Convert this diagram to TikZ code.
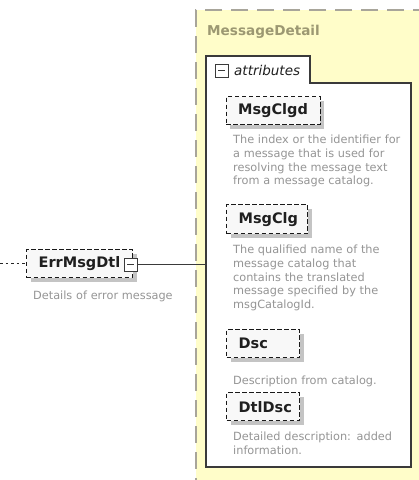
\documentclass[tikz,border=0pt]{standalone}
\usepackage{fontspec}
\setmainfont{DejaVu Sans}
\usetikzlibrary{shadows}
\definecolor{bgyellow}{HTML}{FFFDC9}
\definecolor{ydash}{HTML}{A8A59A}
\definecolor{desccol}{HTML}{959595}
\definecolor{shade}{HTML}{C4C4C4}
\definecolor{boxfill}{HTML}{F8F8F8}
\definecolor{framecol}{HTML}{3A3A3A}
\definecolor{titlecol}{HTML}{9C9872}
\begin{document}
\begin{tikzpicture}[x=1pt,y=-1pt,
  elem/.style={draw=black!90, fill=boxfill, line width=1.3pt, dash pattern=on 4.5pt off 2.5pt,
    anchor=north west, inner xsep=12pt, inner ysep=0pt, minimum height=28pt, align=left,
    font=\fontsize{14.5}{16}\selectfont\bfseries, text=black!88,
    general shadow={fill=shade, shadow xshift=4pt, shadow yshift=-4pt}},
  desc/.style={anchor=north west, inner sep=0pt, text width=190pt, align=left,
    text=desccol, font=\fontsize{11.3}{13.9}\selectfont},
  minusbox/.style={draw=framecol, fill=white, line width=1pt, minimum size=13pt, inner sep=0pt,
    path picture={\draw[framecol, line width=1pt] ([xshift=3pt]path picture bounding box.west) -- ([xshift=-3pt]path picture bounding box.east);}},
  frameline/.style={draw=framecol, line width=1.5pt}
]
\useasboundingbox (0,0) rectangle (419,480);
\clip (0,0) rectangle (419,480);

% yellow complex type area
\fill[bgyellow] (196,10) rectangle (430,490);
\draw[ydash, line width=1.3pt, dash pattern=on 17pt off 9pt] (430,10) -- (196,10) -- (196,490);
\node[anchor=base west, inner sep=0pt, text=titlecol, font=\fontsize{13.6}{16}\selectfont\bfseries] (title) at (207,35) {MessageDetail};

% attributes box with tab
\filldraw[frameline, fill=white] (206,83) -- (206,56) -- (310,56) -- (310,83) -- (411,83) -- (411,467) -- (206,467) -- cycle;
\coordinate (attrW) at (206,264);
\node[minusbox] (tabminus) at (221.5,70.5) {};
\node[anchor=base west, inner sep=0pt, text=black!88, font=\fontsize{13.5}{16}\selectfont\itshape] (attrlabel) at (234,75.5) {attributes};

% attributes
\node[elem, text width=70pt] (msgclgd) at (225.5,96) {MsgClgd};
\node[desc] (msgclgddesc) at (233,134) {\rule{0pt}{9pt}The index or the identifier for\\a message that is used for\\resolving the message text\\from a message catalog.};

\node[elem, text width=57pt, minimum height=29pt] (msgclg) at (226,204) {MsgClg};
\node[desc] (msgclgdesc) at (233,244) {\rule{0pt}{9pt}The qualified name of the\\message catalog that\\contains the translated\\message specified by the\\msgCatalogId.};

\node[elem, text width=49pt] (dsc) at (226,329) {Dsc};
\node[desc] (dscdesc) at (233,375) {\rule{0pt}{9pt}Description from catalog.};

\node[elem, text width=49pt] (dtldsc) at (226,392) {DtlDsc};
\node[desc] (dtldscdesc) at (233,431) {\rule{0pt}{9pt}Detailed description: added\\information.};

% element ErrMsgDtl
\node[elem, text width=82pt] (err) at (26,249) {ErrMsgDtl};
\node[minusbox] (errminus) at (130.5,264.5) {};
\node[desc] (errdesc) at (33,290) {\rule{0pt}{9pt}Details of error message};

% connectors
\coordinate (leftend) at (0,263);
\draw[black!85, line width=1pt, dash pattern=on 2.5pt off 3pt] (leftend |- err.west) -- (err.west);
\draw[framecol, line width=1.2pt] (errminus.east) -- (errminus.east -| attrW);
\end{tikzpicture}
\end{document}
